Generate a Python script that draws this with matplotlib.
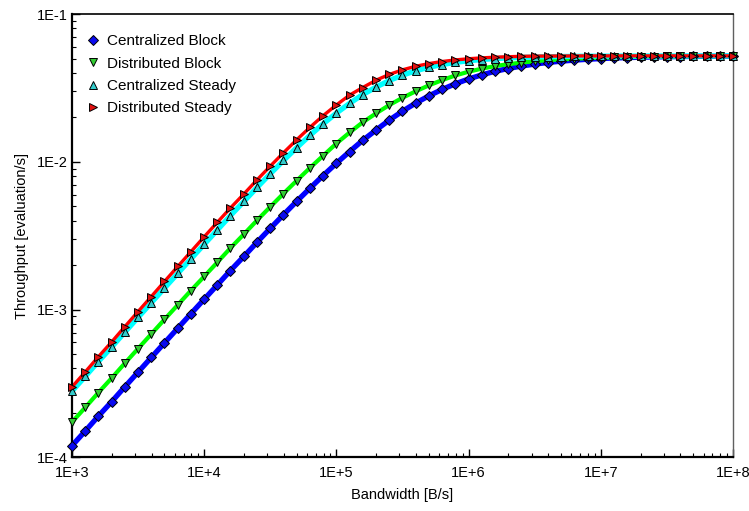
import matplotlib as mpl
mpl.use('Agg')
import matplotlib.pyplot as plt
from matplotlib.ticker import LogLocator, FuncFormatter, NullFormatter
import numpy as np

mpl.rcParams['font.family'] = ['Liberation Sans', 'DejaVu Sans']
mpl.rcParams['font.size'] = 10

# bandwidth samples [B/s], 10 per decade
bandwidth = [
    1.00e3, 1.26e3, 1.58e3, 2.00e3, 2.51e3, 3.16e3, 3.98e3, 5.01e3, 6.31e3, 7.94e3,
    1.00e4, 1.26e4, 1.58e4, 2.00e4, 2.51e4, 3.16e4, 3.98e4, 5.01e4, 6.31e4, 7.94e4,
    1.00e5, 1.26e5, 1.58e5, 2.00e5, 2.51e5, 3.16e5, 3.98e5, 5.01e5, 6.31e5, 7.94e5,
    1.00e6, 1.26e6, 1.58e6, 2.00e6, 2.51e6, 3.16e6, 3.98e6, 5.01e6, 6.31e6, 7.94e6,
    1.00e7, 1.26e7, 1.58e7, 2.00e7, 2.51e7, 3.16e7, 3.98e7, 5.01e7, 6.31e7, 7.94e7,
    1.00e8,
]

centralized_block = [
    1.201e-4, 1.511e-4, 1.900e-4, 2.390e-4, 3.006e-4, 3.778e-4, 4.748e-4, 5.963e-4, 7.485e-4, 9.390e-4,
    1.176e-3, 1.472e-3, 1.840e-3, 2.295e-3, 2.857e-3, 3.546e-3, 4.388e-3, 5.405e-3, 6.627e-3, 8.078e-3,
    9.775e-3, 1.174e-2, 1.396e-2, 1.643e-2, 1.913e-2, 2.199e-2, 2.496e-2, 2.795e-2, 3.089e-2, 3.372e-2,
    3.635e-2, 3.876e-2, 4.092e-2, 4.279e-2, 4.442e-2, 4.581e-2, 4.697e-2, 4.794e-2, 4.873e-2, 4.938e-2,
    4.992e-2, 5.035e-2, 5.071e-2, 5.097e-2, 5.120e-2, 5.139e-2, 5.152e-2, 5.163e-2, 5.173e-2, 5.179e-2,
    5.187e-2,
]

distributed_block = [
    1.735e-4, 2.180e-4, 2.740e-4, 3.450e-4, 4.340e-4, 5.450e-4, 6.840e-4, 8.590e-4, 1.076e-3, 1.347e-3,
    1.677e-3, 2.094e-3, 2.610e-3, 3.244e-3, 4.020e-3, 4.960e-3, 6.100e-3, 7.460e-3, 9.100e-3, 1.100e-2,
    1.330e-2, 1.580e-2, 1.850e-2, 2.130e-2, 2.420e-2, 2.710e-2, 3.000e-2, 3.290e-2, 3.570e-2, 3.840e-2,
    4.070e-2, 4.270e-2, 4.440e-2, 4.580e-2, 4.690e-2, 4.790e-2, 4.870e-2, 4.930e-2, 4.980e-2, 5.030e-2,
    5.060e-2, 5.090e-2, 5.115e-2, 5.135e-2, 5.150e-2, 5.160e-2, 5.170e-2, 5.178e-2, 5.185e-2, 5.190e-2,
    5.193e-2,
]

centralized_steady = [
    2.809e-4, 3.535e-4, 4.448e-4, 5.597e-4, 7.043e-4, 8.857e-4, 1.114e-3, 1.400e-3, 1.758e-3, 2.207e-3,
    2.767e-3, 3.465e-3, 4.329e-3, 5.400e-3, 6.709e-3, 8.298e-3, 1.021e-2, 1.247e-2, 1.510e-2, 1.807e-2,
    2.136e-2, 2.487e-2, 2.848e-2, 3.206e-2, 3.547e-2, 3.856e-2, 4.127e-2, 4.359e-2, 4.551e-2, 4.704e-2,
    4.826e-2, 4.918e-2, 4.991e-2, 5.045e-2, 5.088e-2, 5.119e-2, 5.141e-2, 5.157e-2, 5.173e-2, 5.180e-2,
    5.186e-2, 5.191e-2, 5.195e-2, 5.198e-2, 5.201e-2, 5.203e-2, 5.204e-2, 5.205e-2, 5.206e-2, 5.207e-2,
    5.208e-2,
]

distributed_steady = [
    3.000e-4, 3.790e-4, 4.790e-4, 6.060e-4, 7.670e-4, 9.700e-4, 1.226e-3, 1.551e-3, 1.959e-3, 2.467e-3,
    3.110e-3, 3.905e-3, 4.873e-3, 6.072e-3, 7.545e-3, 9.347e-3, 1.152e-2, 1.410e-2, 1.711e-2, 2.052e-2,
    2.425e-2, 2.829e-2, 3.180e-2, 3.570e-2, 3.900e-2, 4.190e-2, 4.430e-2, 4.620e-2, 4.770e-2, 4.890e-2,
    4.980e-2, 5.050e-2, 5.100e-2, 5.140e-2, 5.172e-2, 5.187e-2, 5.195e-2, 5.199e-2, 5.203e-2, 5.205e-2,
    5.206e-2, 5.207e-2, 5.208e-2, 5.209e-2, 5.209e-2, 5.210e-2, 5.210e-2, 5.210e-2, 5.210e-2, 5.210e-2,
    5.210e-2,
]

series = [
    ('Centralized Block', centralized_block, '#0000ff', 3.8, 'D', '#0a0af0', 5.0),
    ('Distributed Block', distributed_block, '#00ff00', 3.0, 'v', '#33cc33', 5.8),
    ('Centralized Steady', centralized_steady, '#00ffff', 3.8, '^', '#33cccc', 5.8),
    ('Distributed Steady', distributed_steady, '#ff0000', 2.4, '>', '#e01010', 5.8),
]

fig = plt.figure(figsize=(7.49, 5.11), dpi=100)
ax = fig.add_axes([0.0961, 0.1047, 0.8825, 0.8679])

for name, vals, lc, lw, mk, mc, ms in series:
    ax.plot(bandwidth, vals, color=lc, lw=lw, solid_capstyle='round', zorder=2)
    ax.plot(bandwidth, vals, ls='none', marker=mk, ms=ms, mfc=mc, mec='black',
            mew=0.7, label=name, zorder=3, clip_on=False)

ax.set_xscale('log')
ax.set_yscale('log')
ax.set_xlim(1e3, 1e8)
ax.set_ylim(1e-4, 1e-1)

ax.xaxis.set_major_formatter(FuncFormatter(lambda v, p: '1E%+d' % int(round(np.log10(v)))))
ax.yaxis.set_major_formatter(FuncFormatter(lambda v, p: '1E%d' % int(round(np.log10(v)))))
ax.xaxis.set_minor_locator(LogLocator(base=10, subs=np.arange(2, 10), numticks=20))
ax.yaxis.set_minor_locator(LogLocator(base=10, subs=np.arange(2, 10), numticks=20))
ax.xaxis.set_minor_formatter(NullFormatter())
ax.yaxis.set_minor_formatter(NullFormatter())

ax.tick_params(which='both', direction='in', top=False, right=False, labelsize=10.5)
ax.tick_params(which='major', length=6, width=1.0)
ax.tick_params(which='minor', length=3, width=0.8)
ax.tick_params(axis='x', which='major', pad=6)
ax.tick_params(axis='y', which='major', pad=3)

for s in ['left', 'bottom']:
    ax.spines[s].set_linewidth(1.6)
ax.spines['top'].set_linewidth(1.2)
ax.spines['right'].set_linewidth(1.0)
ax.spines['right'].set_color('#606060')

ax.set_xlabel('Bandwidth [B/s]', fontsize=10.5, labelpad=6)
ax.set_ylabel('Throughput [evaluation/s]', fontsize=10.5, labelpad=6)

ax.legend(loc='upper left', frameon=False, fontsize=11, handletextpad=0.3,
          borderaxespad=0.4, labelspacing=0.55, handlelength=1.2,
          bbox_to_anchor=(0.0, 0.982))

fig.savefig('out.png', dpi=100)
